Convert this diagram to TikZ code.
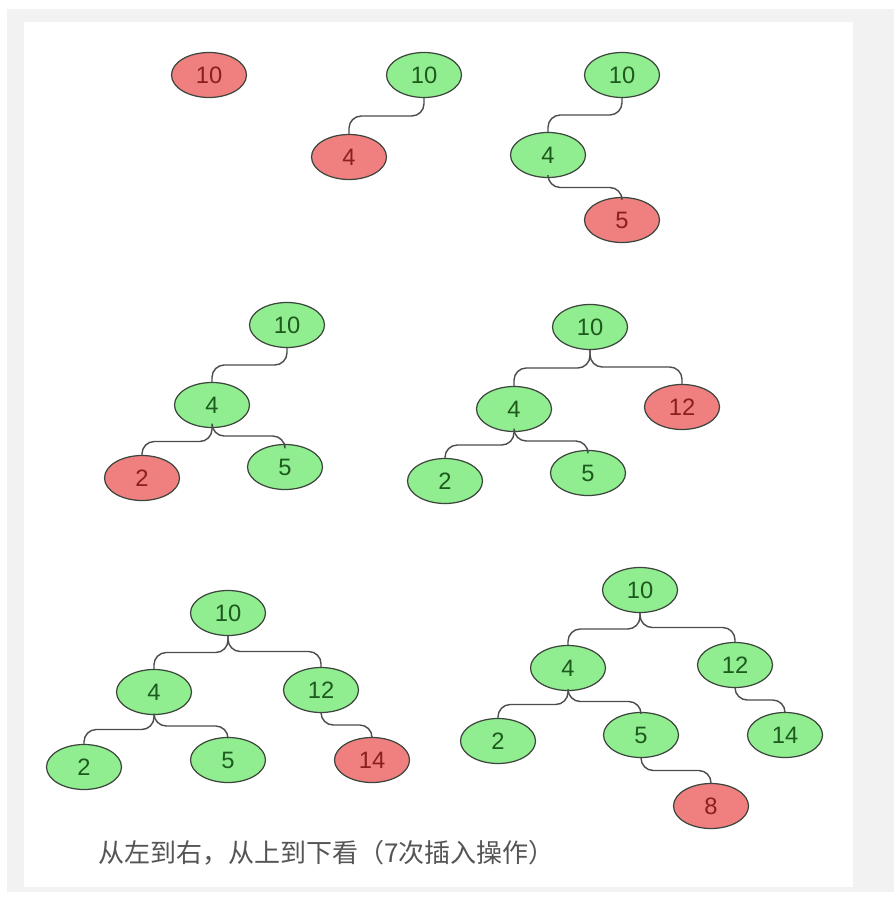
\documentclass[tikz,border=0pt]{standalone}
\usepackage{fontspec}
\setmainfont{Liberation Sans}
\newfontfamily\cjkfont{Noto Sans CJK SC}
\usetikzlibrary{calc,shapes.geometric}
\definecolor{nodegreen}{HTML}{90EE90}
\definecolor{nodered}{HTML}{F08080}
\definecolor{greentext}{HTML}{1E5A1E}
\definecolor{redtext}{HTML}{8A1F1F}
\definecolor{rimgray}{HTML}{3C463C}
\definecolor{framegray}{HTML}{F2F2F2}
\definecolor{captiongray}{HTML}{555555}
\tikzset{
  treenode/.style={
    ellipse,
    draw=rimgray,
    line width=0.7pt,
    minimum width=1.5cm,
    minimum height=0.9cm,
    inner sep=0pt,
    font=\fontsize{13.5}{15}\selectfont
  },
  greennode/.style={treenode, fill=nodegreen, text=greentext},
  rednode/.style={treenode, fill=nodered, text=redtext},
  branch/.style={
    draw=black!70,
    line width=0.8pt,
    rounded corners=7pt
  }
}
\newcommand{\joinnodes}[2]{\draw[branch] (#1.south) |- ($(#1.south)!0.5!(#2.north)$) -| (#2.north);}

\begin{document}
\begin{tikzpicture}[x=0.02cm, y=-0.02cm]
\useasboundingbox (0,0) rectangle (894,898);
\fill[framegray] (7,9) rectangle (894,892);
\fill[white] (24,22) rectangle (853,887);

% step 1
\node[rednode] (s1a) at (209,75) {10};

% step 2
\node[greennode] (s2a) at (424,75) {10};
\node[rednode] (s2b) at (349,157) {4};
\joinnodes{s2a}{s2b}

% step 3
\node[greennode] (s3a) at (622,75) {10};
\node[greennode] (s3b) at (548,155) {4};
\node[rednode] (s3c) at (622,220) {5};
\joinnodes{s3a}{s3b}
\joinnodes{s3b}{s3c}

% step 4
\node[greennode] (s4a) at (287,325) {10};
\node[greennode] (s4b) at (212,405) {4};
\node[rednode] (s4c) at (142,478) {2};
\node[greennode] (s4d) at (285,467) {5};
\joinnodes{s4a}{s4b}
\joinnodes{s4b}{s4c}
\joinnodes{s4b}{s4d}

% step 5
\node[greennode] (s5a) at (590,327) {10};
\node[greennode] (s5b) at (514,409) {4};
\node[rednode] (s5c) at (682,407) {12};
\node[greennode] (s5d) at (445,481) {2};
\node[greennode] (s5e) at (588,473) {5};
\joinnodes{s5a}{s5b}
\joinnodes{s5a}{s5c}
\joinnodes{s5b}{s5d}
\joinnodes{s5b}{s5e}

% step 6
\node[greennode] (s6a) at (228,613) {10};
\node[greennode] (s6b) at (154,692) {4};
\node[greennode] (s6c) at (321,690) {12};
\node[greennode] (s6d) at (84,767) {2};
\node[greennode] (s6e) at (228,760) {5};
\node[rednode] (s6f) at (372,760) {14};
\joinnodes{s6a}{s6b}
\joinnodes{s6a}{s6c}
\joinnodes{s6b}{s6d}
\joinnodes{s6b}{s6e}
\joinnodes{s6c}{s6f}

% step 7
\node[greennode] (s7a) at (640,590) {10};
\node[greennode] (s7b) at (568,668) {4};
\node[greennode] (s7c) at (735,665) {12};
\node[greennode] (s7d) at (498,741) {2};
\node[greennode] (s7e) at (641,735) {5};
\node[greennode] (s7f) at (785,735) {14};
\node[rednode] (s7g) at (711,806) {8};
\joinnodes{s7a}{s7b}
\joinnodes{s7a}{s7c}
\joinnodes{s7b}{s7d}
\joinnodes{s7b}{s7e}
\joinnodes{s7c}{s7f}
\joinnodes{s7e}{s7g}

\node[anchor=west, inner sep=0pt, text=captiongray, font=\cjkfont\fontsize{14.8}{17}\selectfont] (caption) at (98,853) {从左到右，从上到下看（7次插入操作）};
\end{tikzpicture}
\end{document}
